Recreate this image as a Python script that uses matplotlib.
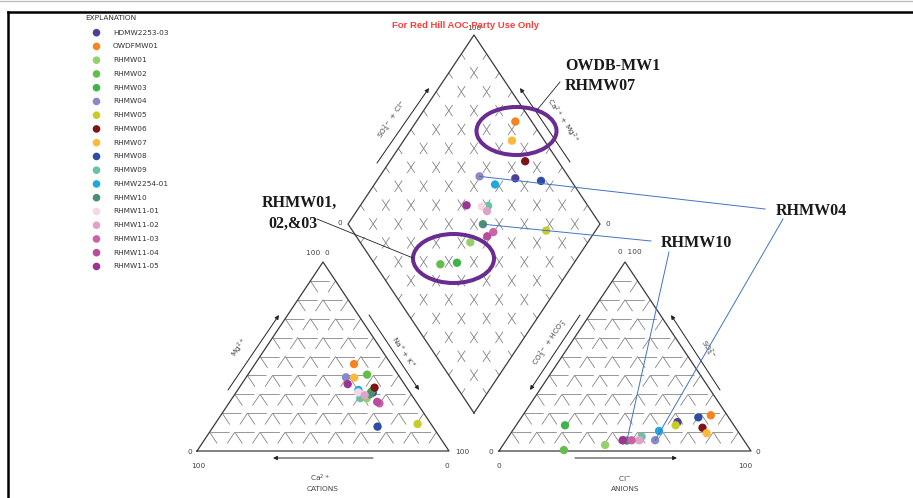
import numpy as np
import matplotlib
matplotlib.use("Agg")
import matplotlib.pyplot as plt
from matplotlib.patches import Ellipse

plt.rcParams['lines.scale_dashes'] = False

# ---- sample data (percent of meq) ----
samples = ["HDMW2253-03", "OWDFMW01", "RHMW01", "RHMW02", "RHMW03", "RHMW04",
           "RHMW05", "RHMW06", "RHMW07", "RHMW08", "RHMW09", "RHMW2254-01",
           "RHMW10", "RHMW11-01", "RHMW11-02", "RHMW11-03", "RHMW11-04", "RHMW11-05"]
colors = ["#4b3f98", "#f7821e", "#96cf6e", "#62bd4a", "#3db54a", "#8b88c8",
          "#c9cc28", "#7f1418", "#fdb93b", "#2e4ea3", "#66c5a0", "#1fa8e0",
          "#4b8f6e", "#f7d7e6", "#e0a3c8", "#c962a7", "#b94d9d", "#9c3591"]

# cations
mg  = [30.9, 46.0, 27.9, 40.4, 31.4, 39.0, 14.3, 33.5, 38.8, 12.9, 28.0, 32.3,
       30.0, 31.0, 29.5, 25.2, 26.0, 35.4]
nak = [54.3, 39.3, 53.4, 47.3, 53.5, 39.6, 80.4, 53.7, 43.0, 65.2, 50.8, 47.9,
       53.6, 48.5, 51.8, 59.8, 58.5, 42.1]
ca  = [100 - a - b for a, b in zip(mg, nak)]

# anions
so4 = [15.3, 18.9, 3.2, 0.5, 13.6, 5.7, 13.6, 12.3, 9.4, 17.8, 7.6, 10.6,
       5.5, 5.7, 5.7, 5.7, 5.7, 5.7]
cl  = [63.2, 74.6, 40.5, 25.5, 19.4, 59.1, 63.3, 74.6, 77.7, 70.2, 52.8, 58.2,
       48.0, 52.1, 52.9, 49.8, 46.3, 46.3]
hco3 = [100 - a - b for a, b in zip(so4, cl)]

# ---- diagram geometry (pixel space) ----
SIDE, HGT = 252.0, 189.0
BASE_Y = 451.0
CAT_X0, ANI_X0 = 197.0, 499.0
DIA_BX, DIA_BY = 474.0, 413.0


def cat_xy(nak_f, mg_f):
    return CAT_X0 + SIDE * (nak_f + 0.5 * mg_f), BASE_Y - HGT * mg_f


def ani_xy(cl_f, so4_f):
    return ANI_X0 + SIDE * (cl_f + 0.5 * so4_f), BASE_Y - HGT * so4_f


def dia_xy(nak_f, scl_f):
    a = 1.0 - nak_f
    return DIA_BX + 0.5 * SIDE * (scl_f - a), DIA_BY - HGT * (a + scl_f)


PX = 0.72  # points per pixel at 100 dpi
GRID_C = "#7a7a7a"
EDGE_C = "#3a3a3a"
STEP = np.hypot(0.05 * SIDE, 0.1 * HGT)  # length of a 10 % step along a slanted line

fig = plt.figure(figsize=(9.13, 4.98), dpi=100)
ax = fig.add_axes([0, 0, 1, 1])
ax.set_xlim(0, 913)
ax.set_ylim(498, 0)
ax.axis("off")

# page frame
ax.plot([0, 913], [1, 1], color="#bdbdbd", lw=1.0)
ax.plot([8, 913], [12, 12], color="black", lw=1.8)
ax.plot([8, 8], [12, 498], color="black", lw=1.8)


def seg(p, q, ls="-", lw=0.55, color=GRID_C, z=1):
    ax.plot([p[0], q[0]], [p[1], q[1]], color=color, lw=lw, ls=ls,
            zorder=z, solid_capstyle="butt", dash_capstyle="butt")


horiz_ls = (0, (19 * PX, 6.2 * PX))
slant_ls = (0, (0.6 * STEP * PX, 0.4 * STEP * PX))
cross_ls = (0.3 * STEP * PX, (0.6 * STEP * PX, 0.4 * STEP * PX))

# ternary grids
for fn in (cat_xy, ani_xy):
    for k in range(1, 10):
        f = k / 10
        seg(fn(0, f), fn(1 - f, f), ls=horiz_ls)
        seg(fn(f, 1 - f), fn(f, 0), ls=slant_ls)
        seg(fn(0, 1 - f), fn(1 - f, 0), ls=slant_ls)
    corners = [fn(0, 0), fn(1, 0), fn(0, 1), fn(0, 0)]
    ax.plot([c[0] for c in corners], [c[1] for c in corners],
            color=EDGE_C, lw=0.9, zorder=2)

# diamond grid
for k in range(1, 10):
    f = k / 10
    seg(dia_xy(f, 1), dia_xy(f, 0), ls=cross_ls)
    seg(dia_xy(0, f), dia_xy(1, f), ls=cross_ls)
dc = [dia_xy(1, 0), dia_xy(0, 0), dia_xy(0, 1), dia_xy(1, 1), dia_xy(1, 0)]
ax.plot([c[0] for c in dc], [c[1] for c in dc], color=EDGE_C, lw=0.9, zorder=2)

# sample points
for i in range(len(samples)):
    n_f, m_f = nak[i] / 100, mg[i] / 100
    c_f, s_f = cl[i] / 100, so4[i] / 100
    pts = [cat_xy(n_f, m_f), ani_xy(c_f, s_f), dia_xy(n_f, c_f + s_f)]
    ax.scatter([p[0] for p in pts], [p[1] for p in pts], s=36,
               color=colors[i], edgecolors="none", zorder=5 + i * 0.01)

# small scale labels
lab = dict(fontsize=5.3, color="#444444", ha="center", va="center",
           family="DejaVu Sans")
ax.text(318, 253, "100  0", **lab)
ax.text(190, 452, "0", **lab)
ax.text(198, 466, "100", **lab)
ax.text(462, 452, "100", **lab)
ax.text(447, 466, "0", **lab)
ax.text(630, 252, "0  100", **lab)
ax.text(491, 452, "0", **lab)
ax.text(499, 466, "0", **lab)
ax.text(758, 452, "0", **lab)
ax.text(745, 466, "100", **lab)
ax.text(340, 223, "0", **lab)
ax.text(608, 224, "0", **lab)
ax.text(474, 28, "100", **lab)

ax.text(320, 478, "Ca$^{2+}$", **lab)
ax.text(323, 489, "CATIONS", **lab)
ax.text(625, 478, "Cl$^{-}$", **lab)
ax.text(625, 489, "ANIONS", **lab)

ang = np.degrees(np.arctan2(HGT, 0.5 * SIDE))
ax.text(240, 348, "Mg$^{2+}$", rotation=ang, **lab)
ax.text(403, 352, "Na$^{+}$ + K$^{+}$", rotation=-ang, **lab)
ax.text(550, 343, "CO$_3^{2-}$ + HCO$_3^{-}$", rotation=ang, **lab)
ax.text(707, 350, "SO$_4^{2-}$", rotation=-ang, **lab)
ax.text(393, 120, "SO$_4^{2-}$ + Cl$^{-}$", rotation=ang, **lab)
ax.text(562, 121, "Ca$^{2+}$ + Mg$^{2+}$", rotation=-ang, **lab)


def arrow(tail, head):
    ax.annotate("", xy=head, xytext=tail,
                arrowprops=dict(arrowstyle="-|>", color="#222222", lw=0.7,
                                mutation_scale=6, shrinkA=0, shrinkB=0))


arrow((373, 458), (273, 458))
arrow((228, 390), (279, 315))
arrow((369, 315), (419, 390))
arrow((575, 458), (677, 458))
arrow((580, 315), (530, 390))
arrow((720, 390), (671, 315))
arrow((377, 163), (429, 88))
arrow((570, 162), (520, 88))

# title
ax.text(466, 25.5, "For Red Hill AOC Party Use Only", color="#ff3b3b",
        fontsize=6.8, fontweight="bold", ha="center", va="center",
        family="Liberation Sans", zorder=10)

# legend
ax.text(85, 18, "EXPLANATION", fontsize=5.3, color="#333333", va="center",
        family="DejaVu Sans")
for i, name in enumerate(samples):
    y = 32.7 + i * 13.75
    ax.scatter([96.5], [y], s=30, color=colors[i], edgecolors="none")
    ax.text(113, y, name, fontsize=5.3, color="#333333", va="center",
            family="DejaVu Sans")

# callouts
PURPLE = "#6a2c91"
ax.add_patch(Ellipse((516.5, 131), 80, 48, fill=False, ec=PURPLE, lw=2.9, zorder=7))
ax.add_patch(Ellipse((453.5, 258.5), 81, 49, fill=False, ec=PURPLE, lw=2.9, zorder=7))

call = dict(family="Liberation Serif", fontweight="bold", fontsize=11.5,
            color="#1a1a1a", va="baseline", ha="left")
ax.text(565, 70, "OWDB-MW1", **call)
ax.text(565, 90, "RHMW07", **call)
ax.text(262, 207, "RHMW01,", **call)
ax.text(268, 228, "02,&03", **call)
ax.text(776, 215, "RHMW04", **call)
ax.text(661, 247, "RHMW10", **call)

ax.plot([560, 537], [82, 110], color="#222222", lw=0.6, zorder=8)
ax.plot([317, 413], [219, 258], color="#222222", lw=0.6, zorder=8)

BLUE = "#4472c4"
i4 = samples.index("RHMW04")
i10 = samples.index("RHMW10")
d4 = dia_xy(nak[i4] / 100, (cl[i4] + so4[i4]) / 100)
a4 = ani_xy(cl[i4] / 100, so4[i4] / 100)
d10 = dia_xy(nak[i10] / 100, (cl[i10] + so4[i10]) / 100)
a10 = ani_xy(cl[i10] / 100, so4[i10] / 100)
ax.plot([765, d4[0]], [209, d4[1]], color=BLUE, lw=0.7, zorder=8)
ax.plot([783, a4[0]], [219, a4[1]], color=BLUE, lw=0.7, zorder=8)
ax.plot([651, d10[0]], [241, d10[1]], color=BLUE, lw=0.7, zorder=8)
ax.plot([669, a10[0]], [252, a10[1]], color=BLUE, lw=0.7, zorder=8)

fig.savefig("out.png", dpi=100)
